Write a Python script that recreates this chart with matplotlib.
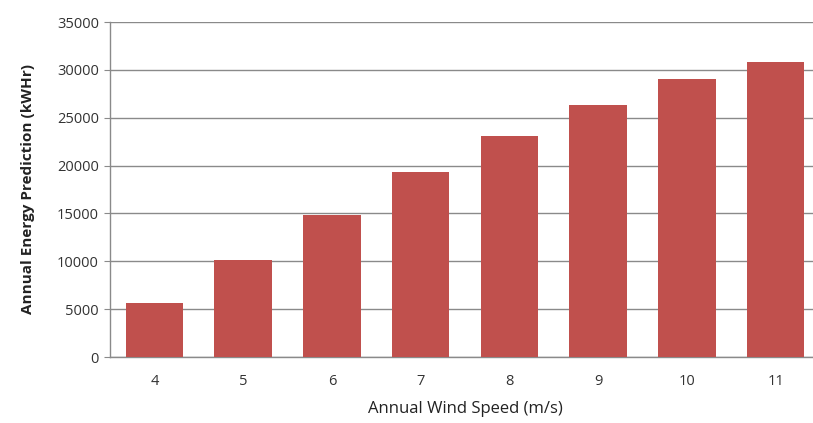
import matplotlib
matplotlib.use("Agg")
import matplotlib.pyplot as plt

wind_speeds = ["4", "5", "6", "7", "8", "9", "10", "11"]
energy_kwh = [5600, 10150, 14800, 19300, 23100, 26300, 29000, 30800]
y_ticks = [0, 5000, 10000, 15000, 20000, 25000, 30000, 35000]

plt.rcParams['font.family'] = ['Open Sans', 'DejaVu Sans']

fig = plt.figure(figsize=(8.13, 4.23), dpi=100)
ax = fig.add_axes([110/813, (423-357)/423, 710/813, 335/423])

x = range(len(wind_speeds))
ax.bar(x, energy_kwh, width=0.65, color="#C0504D", zorder=3)

ax.set_xlim(-0.5, len(wind_speeds) - 0.5)
ax.set_ylim(0, 35000)
ax.set_yticks(y_ticks)
ax.set_yticklabels([str(v) for v in y_ticks], fontsize=10.5, color="#333333")
ax.set_xticks(list(x))
ax.set_xticklabels(wind_speeds, fontsize=10.5, color="#333333")

ax.grid(axis="y", color="#8a8a8a", linewidth=1.0, zorder=0)
for s in ["top", "right"]:
    ax.spines[s].set_visible(False)
for s in ["left", "bottom"]:
    ax.spines[s].set_color("#8a8a8a")
    ax.spines[s].set_linewidth(1.0)
ax.tick_params(axis="x", length=0, pad=12)
ax.tick_params(axis="y", length=4, color="#8a8a8a", pad=4)

ax.set_xlabel("Annual Wind Speed (m/s)", fontsize=12, color="#222222", labelpad=9)
ax.set_ylabel("Annual Energy Prediction (kWHr)", fontsize=11, fontweight="bold",
              color="#222222", labelpad=16)

fig.savefig("out.png", dpi=100)
